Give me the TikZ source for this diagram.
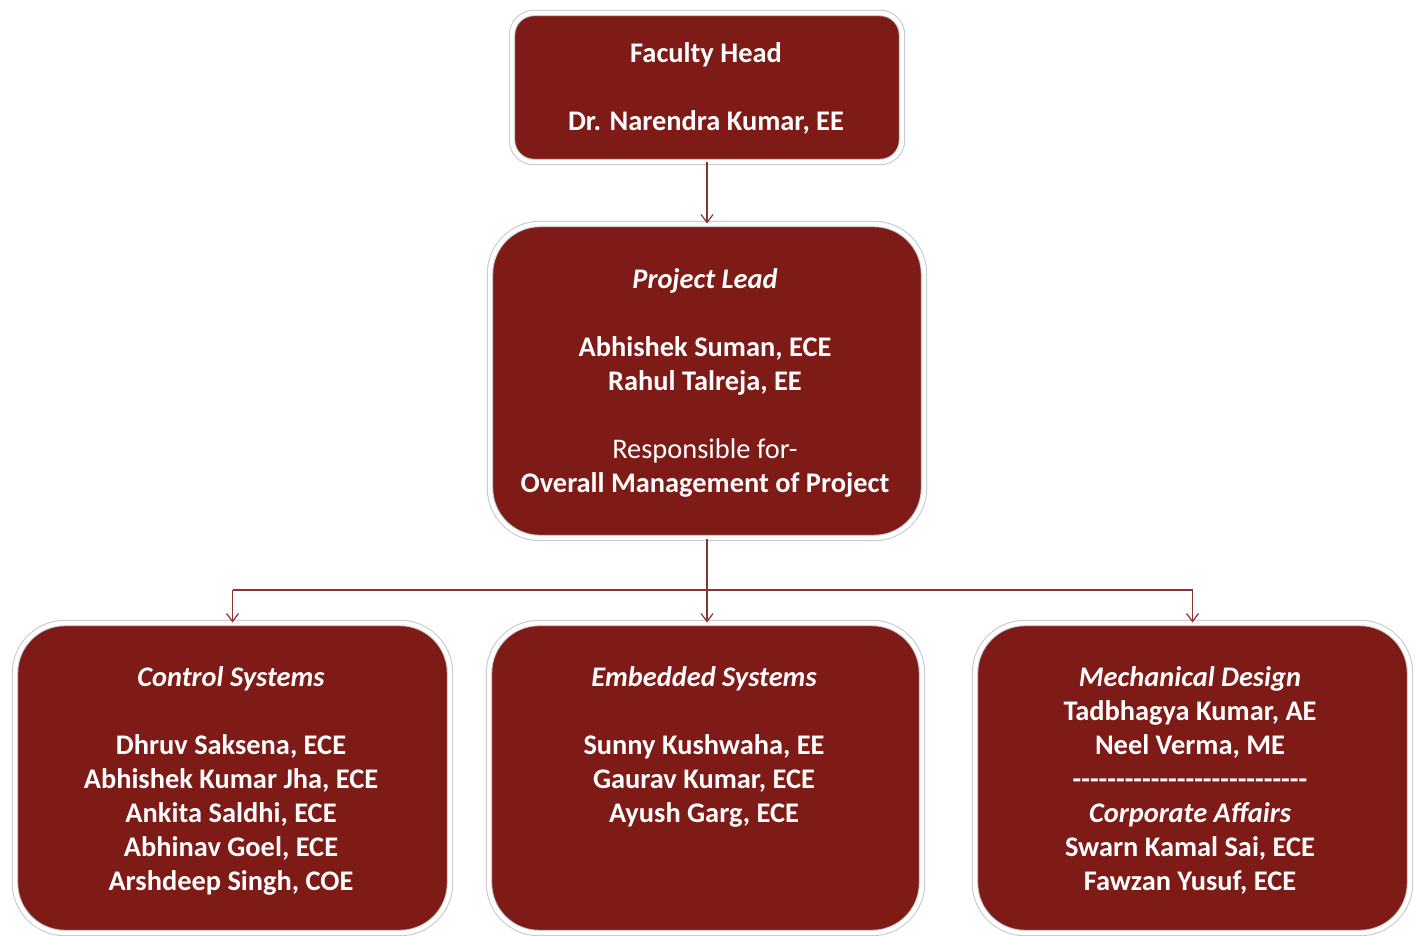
\documentclass[tikz,border=0pt]{standalone}
\usepackage{fontspec}
\setmainfont{Carlito}[Ligatures=TeXOff]
\usetikzlibrary{arrows.meta}
\definecolor{boxred}{RGB}{126,27,23}
\definecolor{connred}{RGB}{140,52,52}
\begin{document}
\begin{tikzpicture}[x=0.5pt,y=-0.5pt,
  box/.style={fill=boxred, draw=gray!45, line width=0.5pt, double=white, double distance=2.2pt, rounded corners=25pt, inner sep=0pt},
  txt/.style={text=white, font=\fontsize{14.2}{17}\selectfont\bfseries, align=center, inner sep=0pt, anchor=north},
  conn/.style={draw=connred, line width=0.6pt},
  arr/.style={conn, -{Straight Barb[length=4pt,width=6pt]}}]
\useasboundingbox (0,0) rectangle (1419,936);
% boxes
\node[box, rounded corners=11pt, minimum width=195pt, minimum height=74.5pt] (fh) at (707,87.5) {};
\node[box, minimum width=217pt, minimum height=157pt] (pl) at (707,381) {};
\node[box, minimum width=217.5pt, minimum height=155pt] (cs) at (232.5,778) {};
\node[box, minimum width=216.5pt, minimum height=155pt] (es) at (705.5,778) {};
\node[box, minimum width=217.5pt, minimum height=155pt] (ms) at (1192.5,778) {};
% texts
\node[txt] (fht) at (706,42) {Faculty Head\\[17pt]Dr. Narendra Kumar, EE};
\node[txt] (plt) at (705,268) {\itshape Project Lead\\[17pt]Abhishek Suman, ECE\\Rahul Talreja, EE\\[17pt]{\mdseries Responsible for-}\\Overall Management of Project};
\node[txt] (cst) at (231,666) {\itshape Control Systems\\[17pt]Dhruv Saksena, ECE\\Abhishek Kumar Jha, ECE\\Ankita Saldhi, ECE\\Abhinav Goel, ECE\\Arshdeep Singh, COE};
\node[txt] (est) at (704,666) {\itshape Embedded Systems\\[17pt]Sunny Kushwaha, EE\\Gaurav Kumar, ECE\\Ayush Garg, ECE};
\node[txt] (mst) at (1190,666) {\itshape Mechanical Design\\Tadbhagya Kumar, AE\\Neel Verma, ME\\---------------------------\\\itshape Corporate Affairs\\Swarn Kamal Sai, ECE\\Fawzan Yusuf, ECE};
% connectors
\coordinate (bus) at (707,590);
\draw[arr] (fh.south) -- (pl.north);
\draw[arr] (pl.south) -- (pl.south |- es.north);
\draw[conn] (cs.north |- bus) -- (ms.north |- bus);
\draw[arr] (cs.north |- bus) -- (cs.north);
\draw[arr] (ms.north |- bus) -- (ms.north);
\end{tikzpicture}
\end{document}
